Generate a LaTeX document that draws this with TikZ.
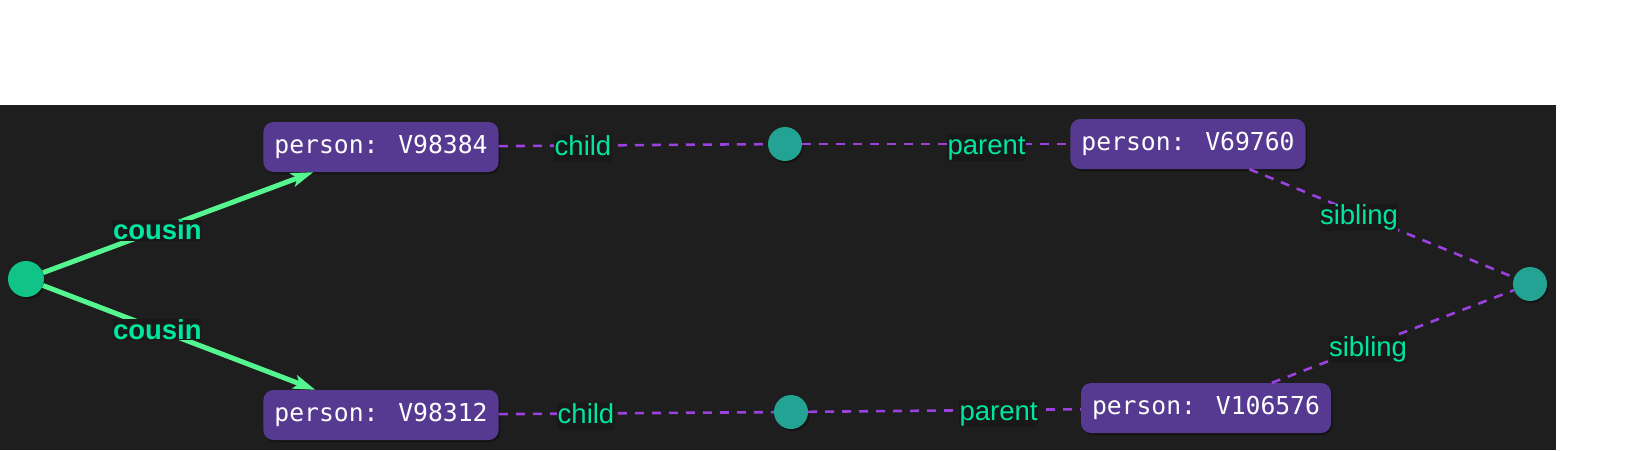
\documentclass[tikz,border=0pt]{standalone}
\usepackage{fontspec}
\setmainfont{Liberation Sans}
\newfontfamily\boxmono{DejaVu Sans Mono}
\usetikzlibrary{arrows.meta,shadows,calc}
\definecolor{bgdark}{HTML}{1E1E1E}
\definecolor{labelbg}{HTML}{191919}
\definecolor{boxpurple}{HTML}{563A92}
\definecolor{hubgreen}{HTML}{10C488}
\definecolor{midteal}{HTML}{22A393}
\definecolor{cousingreen}{HTML}{55F590}
\definecolor{dashpurple}{HTML}{9B41DD}
\definecolor{labelgreen}{HTML}{00E69E}
\begin{document}
\begin{tikzpicture}[x=1pt,y=-1pt,
  softshadow/.style={drop shadow={shadow xshift=1.5pt,shadow yshift=-2pt,opacity=0.35,fill=black}},
  person/.style={draw=none,fill=boxpurple,rounded corners=10pt,text=white,
    font=\boxmono\fontsize{24.7}{28}\selectfont,inner xsep=11pt,inner ysep=0pt,
    minimum height=50pt,softshadow},
  hub/.style={circle,fill=hubgreen,minimum size=36pt,inner sep=0pt,softshadow},
  midnode/.style={circle,fill=midteal,minimum size=34pt,inner sep=0pt,softshadow},
  cousinedge/.style={draw=cousingreen,line width=5pt,-{Stealth[length=22pt,width=14pt,inset=5pt]}},
  relation/.style={draw=dashpurple,line width=2.6pt,dash pattern=on 9pt off 8pt},
  elabel/.style={fill=labelbg,text=labelgreen,inner sep=0.5pt,
    font=\fontsize{27.5}{30}\selectfont,text height=20pt,text depth=6pt,yshift=-3pt},
  boldlabel/.style={fill=labelbg,text=labelgreen,inner sep=0.5pt,
    font=\bfseries\fontsize{27.5}{30}\selectfont}
]
\useasboundingbox (0,0) rectangle (1644,450);
\fill[white] (0,0) rectangle (1644,450);
\fill[bgdark] (0,105) rectangle (1556,450);

% nodes
\node[hub] (c0) at (26,279) {};
\node[person] (p1) at (381,147) {person: V98384};
\node[person] (p2) at (381,415) {person: V98312};
\node[person] (p3) at (1188,144) {person: V69760};
\node[person] (p4) at (1206,408) {person: V106576};
\node[midnode] (m1) at (785,144) {};
\node[midnode] (m2) at (791,412) {};
\node[midnode] (m3) at (1530,284) {};

% edges
\draw[cousinedge] (c0) -- (p1);
\draw[cousinedge] (c0) -- (p2);
\draw[relation] (p1) -- (m1);
\draw[relation] (m1) -- (p3);
\draw[relation] (p2) -- (m2);
\draw[relation] (m2) -- (p4);
\draw[relation] (p3) -- (m3);
\draw[relation] (p4) -- (m3);

% labels
\node[boldlabel] (l1) at ($(c0)!0.37!(p1)$) {cousin};
\node[boldlabel] (l2) at ($(c0)!0.37!(p2)$) {cousin};
\node[elabel] (l3) at ($(p1)!0.5!(m1)$) {child};
\node[elabel] (l4) at ($(m1)!0.5!(p3)$) {parent};
\node[elabel] (l5) at ($(p2)!0.5!(m2)$) {child};
\node[elabel] (l6) at ($(m2)!0.5!(p4)$) {parent};
\node[elabel] (l7) at ($(p3)!0.5!(m3)$) {sibling};
\node[elabel] (l8) at ($(p4)!0.5!(m3)$) {sibling};
\end{tikzpicture}
\end{document}
